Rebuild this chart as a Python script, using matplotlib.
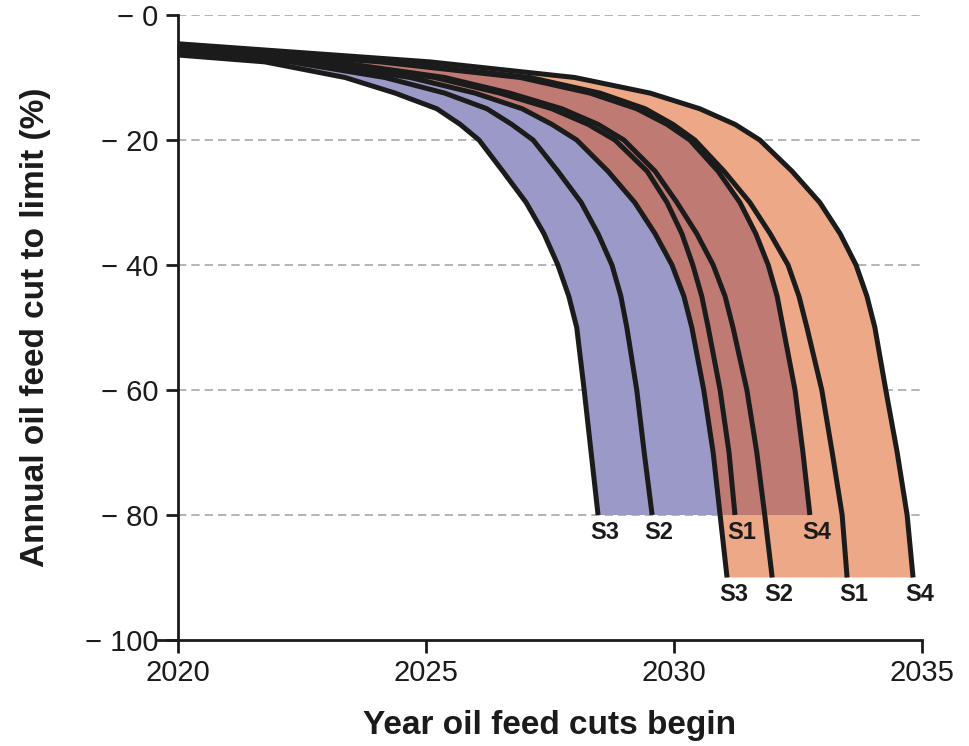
import matplotlib
matplotlib.use("Agg")
import matplotlib.pyplot as plt
import numpy as np

plt.rcParams['font.family'] = ['Liberation Sans', 'DejaVu Sans']

# cut levels (%) shared by every pathway; 80% pathways stop at -80, 90% ones go on to -90
levels_80 = [-7.5, -10, -12.5, -15, -17.5, -20, -25, -30, -35, -40, -45, -50, -60, -70, -80]
levels_90 = levels_80 + [-90]

# cut in 2020 for each pathway
start_cut = {
    'S3_80': -6.4, 'S2_80': -6.0, 'S1_80': -5.5, 'S4_80': -5.1,
    'S3_90': -5.7, 'S2_90': -5.3, 'S1_90': -4.9, 'S4_90': -4.6,
}

# year each pathway reaches the cut levels above
years = {
    'S3_80': [2021.75, 2023.37, 2024.38, 2025.22, 2025.69, 2026.07, 2026.55, 2027.02,
              2027.38, 2027.66, 2027.88, 2028.04, 2028.19, 2028.33, 2028.47],
    'S2_80': [2022.26, 2024.17, 2025.38, 2026.23, 2026.73, 2027.16, 2027.66, 2028.13,
              2028.47, 2028.75, 2028.93, 2029.05, 2029.25, 2029.40, 2029.56],
    'S1_80': [2022.96, 2025.18, 2026.49, 2027.54, 2028.27, 2028.81, 2029.46, 2029.86,
              2030.16, 2030.38, 2030.56, 2030.69, 2030.93, 2031.11, 2031.23],
    'S4_80': [2024.07, 2026.90, 2028.31, 2029.25, 2029.86, 2030.32, 2030.89, 2031.33,
              2031.65, 2031.90, 2032.08, 2032.20, 2032.44, 2032.60, 2032.74],
    'S3_90': [2022.66, 2024.68, 2025.99, 2026.94, 2027.54, 2028.04, 2028.67, 2029.21,
              2029.62, 2029.96, 2030.20, 2030.36, 2030.60, 2030.79, 2030.93, 2031.07],
    'S2_90': [2023.17, 2025.38, 2026.69, 2027.74, 2028.47, 2028.99, 2029.62, 2030.06,
              2030.46, 2030.79, 2031.03, 2031.19, 2031.47, 2031.67, 2031.83, 2031.98],
    'S1_90': [2024.27, 2027.10, 2028.51, 2029.42, 2029.98, 2030.42, 2031.01, 2031.53,
              2031.94, 2032.30, 2032.52, 2032.68, 2032.98, 2033.19, 2033.39, 2033.49],
    'S4_90': [2025.08, 2028.00, 2029.52, 2030.52, 2031.23, 2031.73, 2032.38, 2032.94,
              2033.35, 2033.67, 2033.89, 2034.05, 2034.27, 2034.50, 2034.70, 2034.82],
}

blue = '#9b99c7'
orange = '#eda887'
overlap = '#bf7a73'
ink = '#1b1b1b'


def path(name):
    lv = levels_90 if name.endswith('90') else levels_80
    x = np.r_[2020, years[name]]
    y = np.r_[start_cut[name], lv]
    return x, y


def band(left, right, stop=None):
    xl, yl = path(left)
    xr, yr = path(right)
    if stop is not None:
        xl, yl = xl[:stop], yl[:stop]
        xr, yr = xr[:stop], yr[:stop]
    return np.r_[xl, xr[::-1]], np.r_[yl, yr[::-1]]


fig = plt.figure(figsize=(9.69, 7.46), dpi=100)
ax = fig.add_axes([0.1631, 0.1421, 0.7884, 0.8378])

ax.hlines([0, -20, -40, -60, -80], 2020, 2035, colors='#a8a8a8',
          linestyles=(0, (5, 3)), linewidth=1.2, zorder=0)

bx, by = band('S3_80', 'S4_80')
ax.fill(bx, by, color=blue, lw=0, zorder=1)
ox, oy = band('S3_90', 'S4_90')
ax.fill(ox, oy, color=orange, lw=0, zorder=1)
# where the two bands overlap: between S3 (90%) and S4 (80%) down to -80
vx, vy = band('S3_90', 'S4_80', stop=len(levels_80) + 1)
ax.fill(vx, vy, color=overlap, lw=0, zorder=2)

for name in years:
    x, y = path(name)
    ax.plot(x, y, color=ink, lw=3.6, solid_capstyle='butt',
            solid_joinstyle='round', zorder=3)
    ax.annotate(name[:2], (x[-1], y[-1]), xytext=(5, -4), textcoords='offset points',
                ha='center', va='top', fontsize=17, fontweight='bold',
                color=ink, zorder=4)

ax.set_xlim(2019.6, 2035)
ax.set_ylim(-100, 0)
ax.spines['left'].set_position(('data', 2020))
ax.spines['top'].set_visible(False)
ax.spines['right'].set_visible(False)
for s in ('left', 'bottom'):
    ax.spines[s].set_linewidth(2)
    ax.spines[s].set_color(ink)

ax.set_xticks([2020, 2025, 2030, 2035])
ax.set_xticklabels(['2020', '2025', '2030', '2035'])
ax.set_yticks([0, -20, -40, -60, -80, -100])
ax.set_yticklabels(['\u2212 0', '\u2212 20', '\u2212 40', '\u2212 60', '\u2212 80', '\u2212 100'])
ax.tick_params(axis='both', length=9, width=2, color=ink, labelsize=21,
               labelcolor=ink, pad=5)

ax.set_xlabel('Year oil feed cuts begin', fontsize=24, fontweight='bold', color=ink)
ax.set_ylabel('Annual oil feed cut to limit (%)', fontsize=24, fontweight='bold', color=ink)
ax.xaxis.set_label_coords(0.513, -0.112)
ax.yaxis.set_label_coords(-0.14, 0.5)

fig.savefig('out.png', dpi=100)
